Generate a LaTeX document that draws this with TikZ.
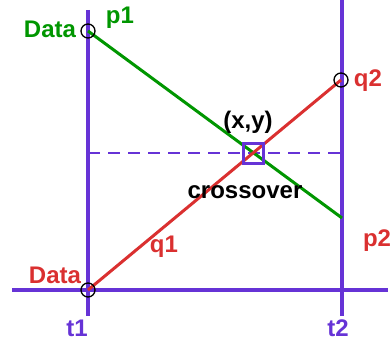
\documentclass[tikz,border=0pt]{standalone}
\usepackage{fontspec}
\setmainfont{Liberation Sans}
\definecolor{axispurple}{RGB}{102,51,214}
\definecolor{linegreen}{RGB}{0,150,0}
\definecolor{linered}{RGB}{218,48,48}
\tikzset{
  axis/.style={line width=4pt, axispurple},
  lbl/.style={font=\fontsize{24}{26}\selectfont\bfseries, inner sep=0pt},
  endpt/.style={draw=black, line width=1.3pt, circle, minimum size=14pt, inner sep=0pt}
}
\begin{document}
\begin{tikzpicture}[x=1pt,y=-1pt]
            \useasboundingbox (0,0) rectangle (391,345);
            % axes
            \coordinate (t1top) at (88,10);
            \coordinate (t1bot) at (88,316);
            \coordinate (t2top) at (342,0);
            \coordinate (t2bot) at (342,316);
            \coordinate (axl) at (12,290);
            \coordinate (axr) at (388,290);
            \draw[axis] (t1top) -- (t1bot);
            \draw[axis] (t2top) -- (t2bot);
            \draw[axis] (axl) -- (axr);
            % data points
            \coordinate (p1) at (88,31);
            \coordinate (p2) at (342,218);
            \coordinate (q1) at (88,290);
            \coordinate (q2) at (341,80);
            \coordinate (xy) at (253,153);
            \coordinate (dl) at (88,153);
            \coordinate (dr) at (342,153);
            \draw[axispurple, line width=1.4pt, dash pattern=on 12pt off 8pt] (dl) -- (dr);
            \draw[linegreen, line width=3pt] (p1) -- (p2);
            \draw[linered, line width=3pt] (q1) -- (q2);
            \draw[axispurple, line width=3pt] ([shift={(-10,-10)}]xy) rectangle ([shift={(10,10)}]xy);
            \node[endpt] (cp1) at (p1) {};
            \node[endpt] (cq1) at (q1) {};
            \node[endpt] (cq2) at (q2) {};
            % labels
            \node[lbl, linegreen] (datap) at (50,29) {Data};
            \node[lbl, linegreen] (lp1) at (120,18) {p1};
            \node[lbl, linered] (lq2) at (368,81) {q2};
            \node[lbl] (lxy) at (248,122) {(x,y)};
            \node[lbl] (lcross) at (245,192) {crossover};
            \node[lbl, linered] (lq1) at (164,247) {q1};
            \node[lbl, linered] (lp2) at (377,241) {p2};
            \node[lbl, linered] (dataq) at (55,275) {Data};
            \node[lbl, axispurple] (lt1) at (77,328) {t1};
            \node[lbl, axispurple] (lt2) at (338,328) {t2};
        \end{tikzpicture}
\end{document}
